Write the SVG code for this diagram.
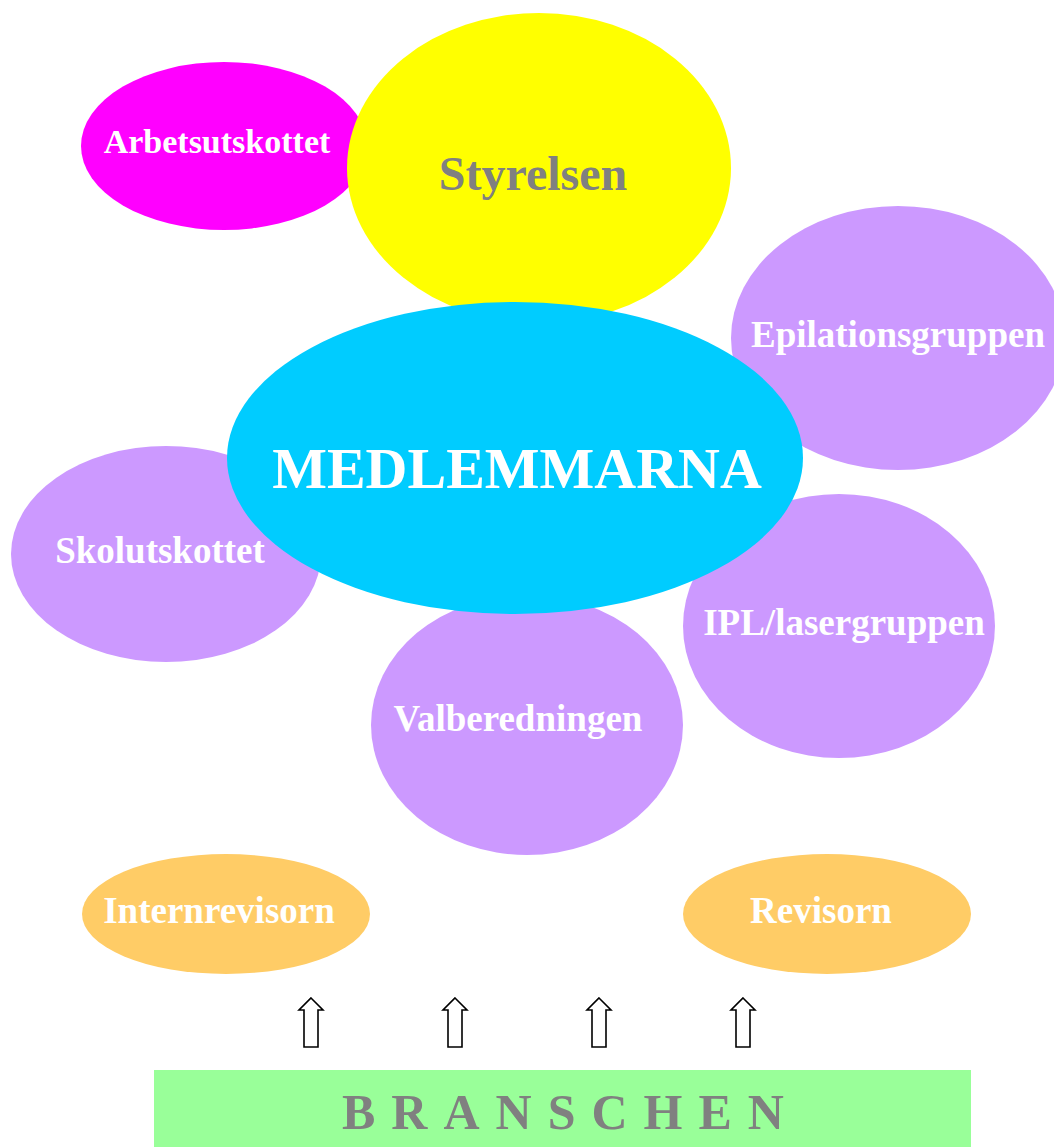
<svg xmlns="http://www.w3.org/2000/svg" width="1054" height="1147" viewBox="0 0 1054 1147">
<style>
.lbl{font-family:"Liberation Serif","Times New Roman",serif;font-weight:bold;text-anchor:middle}
.w{fill:#FFFFFF}
.g{fill:#808080}
.lav{fill:#CC99FF}
.org{fill:#FFCC66}
.arr{fill:#FFFFFF;stroke:#000000;stroke-width:1.6;stroke-linejoin:miter}
</style>
<rect x="0" y="0" width="1054" height="1147" fill="#FFFFFF"/>
<g id="arbetsutskottet">
<ellipse cx="224" cy="146" rx="143" ry="84" fill="#FF00FF"/>
<text class="lbl w" x="217" y="153" font-size="34">Arbetsutskottet</text>
</g>
<g id="styrelsen">
<ellipse cx="539" cy="168" rx="192" ry="155" fill="#FFFF00"/>
<text class="lbl g" x="533" y="190" font-size="48">Styrelsen</text>
</g>
<g id="epilationsgruppen">
<ellipse cx="898" cy="338" rx="167" ry="132" class="lav"/>
<text class="lbl w" x="898" y="347" font-size="37">Epilationsgruppen</text>
</g>
<g id="skolutskottet">
<ellipse cx="166" cy="554" rx="155" ry="108" class="lav"/>
<text class="lbl w" x="160" y="563" font-size="37">Skolutskottet</text>
</g>
<g id="valberedningen">
<ellipse cx="527" cy="725" rx="156" ry="130" class="lav"/>
<text class="lbl w" x="518" y="731" font-size="37">Valberedningen</text>
</g>
<g id="ipl-lasergruppen">
<ellipse cx="839" cy="626" rx="156" ry="132" class="lav"/>
<text class="lbl w" x="844" y="635" font-size="37">IPL/lasergruppen</text>
</g>
<g id="medlemmarna">
<ellipse cx="515" cy="458" rx="288" ry="156" fill="#00CCFF"/>
<text class="lbl w" x="517" y="488" font-size="58">MEDLEMMARNA</text>
</g>
<g id="internrevisorn">
<ellipse cx="226" cy="914" rx="144" ry="60" class="org"/>
<text class="lbl w" x="219" y="923" font-size="37">Internrevisorn</text>
</g>
<g id="revisorn">
<ellipse cx="827" cy="914" rx="144" ry="60" class="org"/>
<text class="lbl w" x="821" y="923" font-size="37">Revisorn</text>
</g>
<g id="branschen">
<rect x="154" y="1070" width="817" height="77" fill="#99FF99"/>
<text x="342" y="1129" font-family="&quot;Liberation Serif&quot;,&quot;Times New Roman&quot;,serif" font-weight="bold" font-size="50" letter-spacing="16" fill="#808080">BRANSCHEN</text>
</g>
<g id="connectors">
<path class="arr" d="M311,998 L323,1010 L318,1010 L318,1047 L304,1047 L304,1010 L299,1010 Z"/>
<path class="arr" d="M455,998 L467,1010 L462,1010 L462,1047 L448,1047 L448,1010 L443,1010 Z"/>
<path class="arr" d="M599,998 L611,1010 L606,1010 L606,1047 L592,1047 L592,1010 L587,1010 Z"/>
<path class="arr" d="M743,998 L755,1010 L750,1010 L750,1047 L736,1047 L736,1010 L731,1010 Z"/>
</g>
</svg>
